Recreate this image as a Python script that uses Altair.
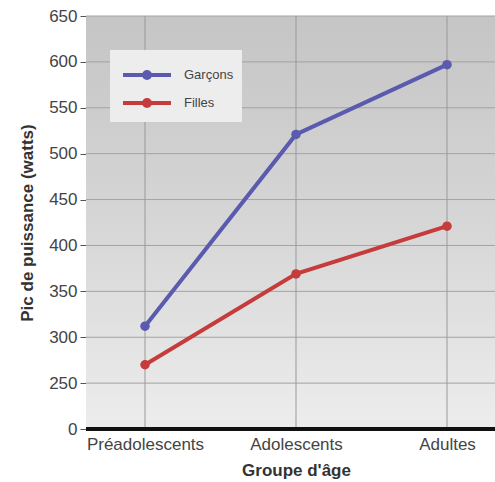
import altair as alt
import pandas as pd

groups = ["Préadolescents", "Adolescents", "Adultes"]
series = ["Garçons", "Filles"]
garcons = [312, 521, 597]
filles = [270, 369, 421]
y_ticks = [200, 250, 300, 350, 400, 450, 500, 550, 600, 650]
colors = ["#5a5aae", "#c63b3b"]

rows = []
for g, v in zip(groups, garcons):
    rows.append({"groupe": g, "serie": "Garçons", "watts": v})
for g, v in zip(groups, filles):
    rows.append({"groupe": g, "serie": "Filles", "watts": v})
df = pd.DataFrame(rows)

W, H = 409, 413
FONT = "Liberation Sans"

sym = "M-0.8,0L2.4,0M0.6,0A0.2,0.2,0,1,1,1.0,0A0.2,0.2,0,1,1,0.6,0Z"

x_scale = alt.Scale(type="point", domain=groups, range=[59, 361], padding=0)
y_scale = alt.Scale(domain=[200, 650], nice=False, zero=False)

x_axis = alt.Axis(title="Groupe d'âge", labelAngle=0, domain=False, ticks=False,
                  labelPadding=7, labelFontSize=17, labelColor="#444", labelFont=FONT,
                  labelAlign="center", labelBaseline="top",
                  grid=False,
                  titleFont=FONT, titleFontSize=17, titleFontWeight="bold",
                  titleColor="#333", titlePadding=10)
y_axis = alt.Axis(values=y_ticks, labelExpr="datum.value == 200 ? '0' : datum.label",
                  title="Pic de puissance (watts)", domain=False,
                  tickSize=6, tickColor="#555", labelPadding=3,
                  labelFontSize=17, labelColor="#444", labelFont=FONT,
                  grid=False,
                  titleFont=FONT, titleFontSize=17, titleFontWeight="bold",
                  titleColor="#333", titlePadding=12)

color_enc = alt.Color(
    "serie:N", sort=series,
    scale=alt.Scale(domain=series, range=colors),
    legend=alt.Legend(title=None, orient="none", legendX=24, legendY=34,
                      fillColor="#ededed", padding=8, symbolType=sym,
                      symbolSize=900, symbolStrokeWidth=4, labelOffset=32,
                      labelFontSize=13, labelFont=FONT, labelColor="#444",
                      rowPadding=0),
)

bg = alt.Chart(pd.DataFrame({"a": [0]})).mark_rect(
    color=alt.Gradient(gradient="linear", x1=0, x2=0, y1=0, y2=1,
                       stops=[alt.GradientStop(color="#c5c5c5", offset=0),
                              alt.GradientStop(color="#d6d6d6", offset=0.5),
                              alt.GradientStop(color="#ededed", offset=1)])
).encode(x=alt.value(0), x2=alt.value(W), y=alt.value(0), y2=alt.value(H))

hgrid = alt.Chart(pd.DataFrame({"watts": y_ticks[1:]})).mark_rule(
    color="#a3a3a3", strokeWidth=1
).encode(y=alt.Y("watts:Q", scale=y_scale, axis=y_axis))

vgrid = alt.Chart(pd.DataFrame({"groupe": groups})).mark_rule(
    color="#999999", strokeWidth=1
).encode(x=alt.X("groupe:N", sort=groups, scale=x_scale, axis=x_axis))

lines = alt.Chart(df).mark_line(
    strokeWidth=4,
    point=alt.OverlayMarkDef(filled=True, size=90, opacity=1),
).encode(
    x=alt.X("groupe:N", sort=groups, scale=x_scale, axis=x_axis),
    y=alt.Y("watts:Q", scale=y_scale, axis=y_axis),
    color=color_enc,
)

base = alt.Chart(pd.DataFrame({"watts": [200]})).mark_rule(
    color="#111", strokeWidth=4
).encode(y=alt.Y("watts:Q", scale=y_scale, axis=y_axis))

chart = alt.layer(bg, hgrid, vgrid, lines, base).properties(
    width=W, height=H,
    autosize=alt.AutoSizeParams(type="none"),
    padding={"left": 86, "top": 16, "right": 0, "bottom": 53},
    background="white",
).configure_view(stroke=None)

chart.save("out.html", embed_options={"renderer": "svg", "actions": False})
